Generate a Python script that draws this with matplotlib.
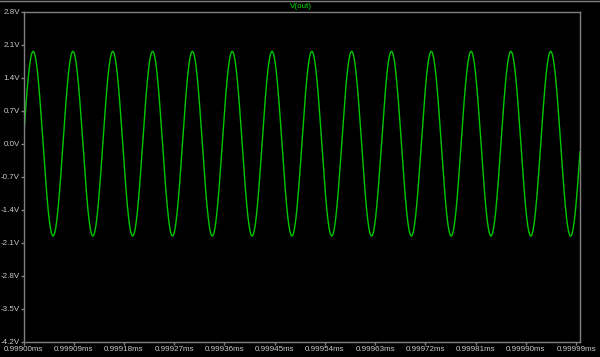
import numpy as np
import matplotlib
matplotlib.use("Agg")
import matplotlib.pyplot as plt

plt.rcParams['font.family'] = ['Liberation Sans', 'DejaVu Sans']

# waveform parameters
AMPLITUDE = 1.955      # V, peak
FREQ = 14.02e6         # Hz (14 periods across the window)
PHASE = 0.05           # rad, trace starts just above 0V
T_START = 0.99900      # ms
T_END = 0.999997       # ms
N_POINTS = 4000

y_ticks = [-4.2, -3.5, -2.8, -2.1, -1.4, -0.7, 0.0, 0.7, 1.4, 2.1, 2.8]
y_labels = ["-4.2V", "-3.5V", "-2.8V", "-2.1V", "-1.4V", "-0.7V", "0.0V",
            "0.7V", "1.4V", "2.1V", "2.8V"]
x_ticks = [0.99900, 0.99909, 0.99918, 0.99927, 0.99936, 0.99945,
           0.99954, 0.99963, 0.99972, 0.99981, 0.99990, 0.99999]
x_labels = ["%.5fms" % v for v in x_ticks]
trace_name = "V(out)"

BG = "black"
AX_COL = "#808080"
TXT_COL = "#cccccc"
GREEN = "#00c800"

# simulated output: sine in time (ms)
t = np.linspace(T_START, T_END, N_POINTS)
v = AMPLITUDE * np.sin(2 * np.pi * FREQ * (t - T_START) * 1e-3 + PHASE)

fig = plt.figure(figsize=(6.0, 3.57), dpi=100, facecolor=BG)
ax = fig.add_axes([23.5 / 600, 1 - 342 / 357, (580 - 23.5) / 600, (342 - 11.5) / 357])
ax.set_facecolor(BG)

ax.plot(t, v, color=GREEN, lw=1.0)

ax.set_xlim(T_START, T_END)
ax.set_ylim(-4.2, 2.8)
ax.set_yticks(y_ticks)
ax.set_yticklabels(y_labels)
ax.set_xticks(x_ticks)
ax.set_xticklabels(x_labels)

for s in ax.spines.values():
    s.set_color(AX_COL)
    s.set_linewidth(1.0)
ax.tick_params(colors=AX_COL, length=2.5, width=1, labelsize=5.8,
               labelcolor=TXT_COL, pad=0.2)

# title of the trace, in trace colour
fig.text(301 / 600, 1 - 6 / 357, trace_name, color="#00e000", fontsize=5.8,
         ha="center", va="center")
# thin frame line at top of window
fig.add_artist(plt.Line2D([0, 1], [1 - 0.5 / 357, 1 - 0.5 / 357],
                          color=AX_COL, lw=1.0, transform=fig.transFigure))

fig.savefig("out.png", dpi=100, facecolor=BG)
